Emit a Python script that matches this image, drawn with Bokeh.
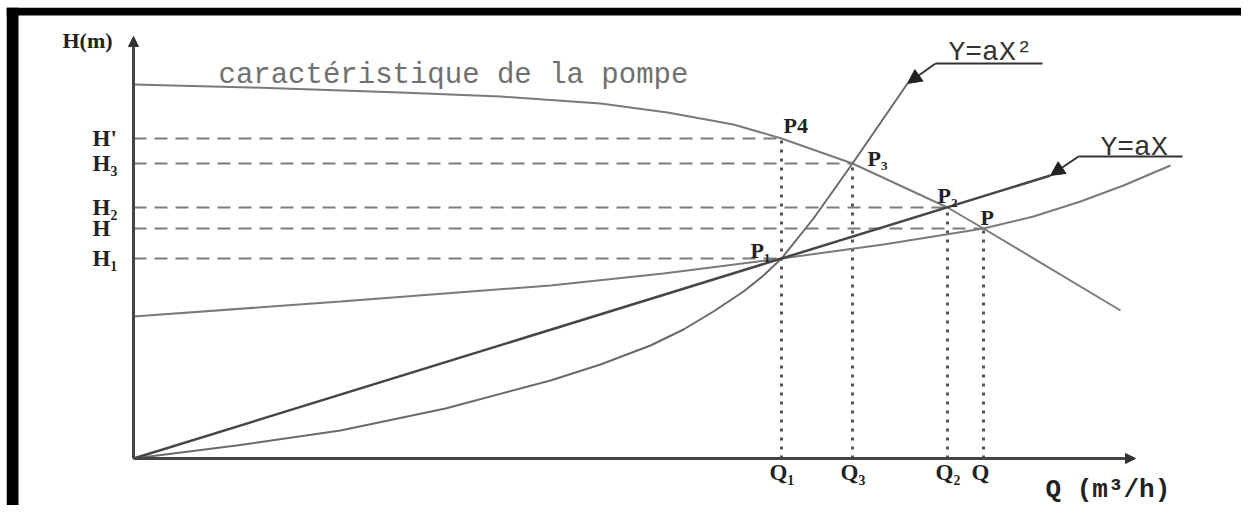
from bokeh.plotting import figure
from bokeh.models import Range1d, Arrow, NormalHead, BoxAnnotation
from bokeh.core.properties import value
from bokeh.embed import file_html
from bokeh.resources import INLINE

# ---- data (Q in arbitrary units of flow, H in arbitrary units of head) ----
q_names = ["Q₁", "Q₃", "Q₂", "Q"]
q_vals = [64.8, 71.9, 81.4, 85.0]
q_tops = [32.0, 29.5, 25.1, 23.0]          # vertical guides go up to P4, P3, P2, P

h_names = ["H'", "H₃", "H₂", "H", "H₁"]
h_vals = [32.0, 29.5, 25.1, 23.0, 20.0]
h_ends = [64.8, 71.9, 81.4, 85.0, 64.8]    # horizontal guides go to P4, P3, P2, P, P1

pt_names = ["P4", "P₃", "P₂", "P", "P₁"]
pt_q = [64.8, 71.9, 81.4, 85.0, 64.8]
pt_h = [32.0, 29.5, 25.1, 23.0, 20.0]

pump_q = [0, 11.7, 26.7, 36.7, 46.7, 53.4, 60.0, 64.8, 71.9, 81.4, 85.0, 98.7]
pump_h = [37.4, 37.1, 36.6, 36.2, 35.5, 34.6, 33.4, 32.0, 29.5, 25.1, 23.0, 14.8]

para_q = [0, 10.3, 20.7, 31.2, 41.7, 46.7, 51.7, 55.0, 58.0, 61.0, 63.0, 64.8, 68.0, 71.9, 77.4]
para_h = [0, 1.3, 2.8, 5.0, 7.8, 9.4, 11.3, 12.9, 14.7, 16.7, 18.3, 20.0, 24.0, 29.5, 37.5]

lin_q = [0, 91.7]
lin_h = [0, 28.3]

rise_q = [0, 20.7, 41.7, 53.0, 64.8, 75.0, 85.0, 90.0, 94.7, 99.0, 103.7]
rise_h = [14.2, 15.7, 17.3, 18.5, 20.0, 21.4, 23.0, 24.2, 25.7, 27.3, 29.3]

x_axis_end = 100.2
y_axis_end = 42.2

# ---- figure ----
p = figure(width=1241, height=505,
           x_range=Range1d(-12.7, 110.8), y_range=Range1d(-4.7, 45.1),
           x_axis_location=None, y_axis_location=None,
           toolbar_location=None, output_backend="svg",
           min_border_left=6, min_border_right=0,
           min_border_top=7, min_border_bottom=0,
           border_fill_color="white", background_fill_color="white",
           outline_line_color=None)
p.grid.grid_line_color = None

# black picture frame (left and top strips)
p.add_layout(BoxAnnotation(right=-11.5, fill_color="black", fill_alpha=1.0,
                           line_color=None))
p.add_layout(BoxAnnotation(bottom=44.3, fill_color="black", fill_alpha=1.0,
                           line_color=None))

GRAY = "#7a7a7a"
DARK = "#222222"

# guides
p.segment(x0=[0] * len(h_vals), y0=h_vals, x1=h_ends, y1=h_vals,
          line_color="#7c7c7c", line_width=2, line_dash="13 8")
p.segment(x0=q_vals, y0=[0] * len(q_vals), x1=q_vals, y1=q_tops,
          line_color="#555555", line_width=3, line_dash="3 6")

# curves
p.line(pump_q, pump_h, line_color=GRAY, line_width=2)
p.line(rise_q, rise_h, line_color=GRAY, line_width=2)
p.line(para_q, para_h, line_color="#6a6a6a", line_width=2)
p.line(lin_q, lin_h, line_color="#454545", line_width=2.5)

# axes with arrowheads
p.add_layout(Arrow(end=NormalHead(size=10, fill_color="#333333", line_color="#333333"),
                   x_start=0, y_start=0, x_end=x_axis_end, y_end=0,
                   line_color="#444444", line_width=3))
p.add_layout(Arrow(end=NormalHead(size=10, fill_color="#333333", line_color="#333333"),
                   x_start=0, y_start=0, x_end=0, y_end=y_axis_end,
                   line_color="#444444", line_width=3))

# leader arrows for the curve names
p.line([90.9, 80.2], [39.5, 39.5], line_color="#333333", line_width=2)
p.add_layout(Arrow(end=NormalHead(size=14, fill_color="#222222", line_color="#222222"),
                   x_start=80.2, y_start=39.5, x_end=para_q[-1], y_end=para_h[-1],
                   line_color="#333333", line_width=2))
p.line([104.9, 94.5], [30.2, 30.2], line_color="#333333", line_width=2)
p.add_layout(Arrow(end=NormalHead(size=14, fill_color="#222222", line_color="#222222"),
                   x_start=94.5, y_start=30.2, x_end=lin_q[-1], y_end=lin_h[-1],
                   line_color="#333333", line_width=2))

MONO = value("Liberation Mono")
SERIF = value("Liberation Serif")

# axis-side labels
p.text(x=[-4.1] * len(h_vals), y=h_vals, text=h_names, text_font=SERIF,
       text_font_style="bold", text_font_size=value("23px"), text_color=DARK,
       text_baseline="middle", text_align="left")
p.text(x=[q - 1.2 for q in q_vals], y=[-1.4] * len(q_vals), text=q_names, text_font=SERIF,
       text_font_style="bold", text_font_size=value("23px"), text_color=DARK,
       text_baseline="middle", text_align="left")
p.text(x=[-7.1], y=[41.8], text=["H(m)"], text_font=SERIF, text_font_style="bold",
       text_font_size=value("22px"), text_color=DARK, text_baseline="middle")
p.text(x=[91.2], y=[-3.1], text=["Q (m³/h)"], text_font=MONO, text_font_style="bold",
       text_font_size=value("26px"), text_color=DARK, text_baseline="middle")

# point labels
p.text(x=[65.0, 73.4, 80.4, 84.7, 61.7], y=[33.3, 30.0, 26.3, 24.1, 20.8], text=pt_names,
       text_font=SERIF, text_font_style="bold", text_font_size=value("22px"),
       text_color=DARK, text_baseline="middle")

# curve names
p.text(x=[8.5], y=[38.3], text=["caractéristique de la pompe"], text_font=MONO,
       text_font_size=value("29px"), text_color="#707070", text_baseline="middle")
p.text(x=[81.5], y=[40.6], text=["Y=aX²"], text_font=MONO,
       text_font_size=value("28px"), text_color="#333333", text_baseline="middle")
p.text(x=[96.7], y=[31.1], text=["Y=aX"], text_font=MONO,
       text_font_size=value("28px"), text_color="#333333", text_baseline="middle")

open("out.html", "w").write(file_html(p, INLINE))
